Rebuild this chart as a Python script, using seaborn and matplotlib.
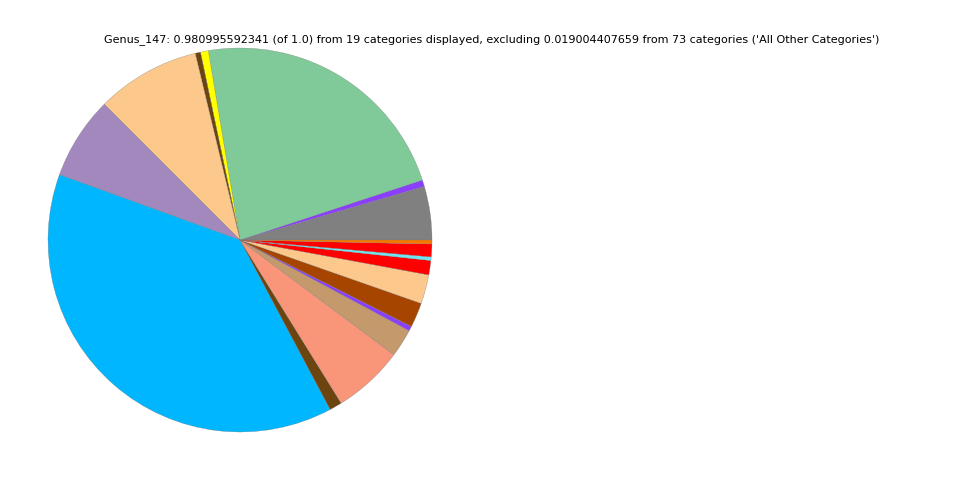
import matplotlib
matplotlib.use('Agg')
import matplotlib.pyplot as plt
import seaborn as sns

# slice values, counter-clockwise from 3 o'clock
categories = ['Cat_01', 'Cat_02', 'Cat_03', 'Cat_04', 'Cat_05', 'Cat_06',
              'Cat_07', 'Cat_08', 'Cat_09', 'Cat_10', 'Cat_11', 'Cat_12',
              'Cat_13', 'Cat_14', 'Cat_15', 'Cat_16', 'Cat_17', 'Cat_18']
values = [0.04414, 0.00545, 0.22154, 0.00654, 0.00436, 0.08584,
          0.06840, 0.37578, 0.01036, 0.05859, 0.02316, 0.00382,
          0.02044, 0.02398, 0.01180, 0.00300, 0.01050, 0.00327]
colors = ['#808080', '#8a3ffc', '#80ca9a', '#ffff00', '#6b4410', '#fdc88c',
          '#a388bd', '#00b6ff', '#6b4410', '#f9967a', '#c49a6c', '#8a3ffc',
          '#a64500', '#fdc88c', '#ff0000', '#70e4f0', '#ff0000', '#f57900']

title = ("Genus_147: 0.980995592341 (of 1.0) from 19 categories displayed, "
         "excluding 0.019004407659 from 73 categories ('All Other Categories')")

sns.set_style('white')
plt.rcParams['font.family'] = ['DejaVu Sans']

fig = plt.figure(figsize=(9.6, 4.8), dpi=100)
ax = fig.add_axes([0, 0, 0.5, 1])
ax.pie(values, colors=colors, startangle=0, counterclock=True,
       wedgeprops={'edgecolor': '#777777', 'linewidth': 0.2})
ax.set_aspect('equal')

fig.text(492 / 960, 1 - 40 / 480, title, ha='center', va='center',
         fontsize=8, color='black')

fig.savefig('out.png', dpi=100)
plt.close()
